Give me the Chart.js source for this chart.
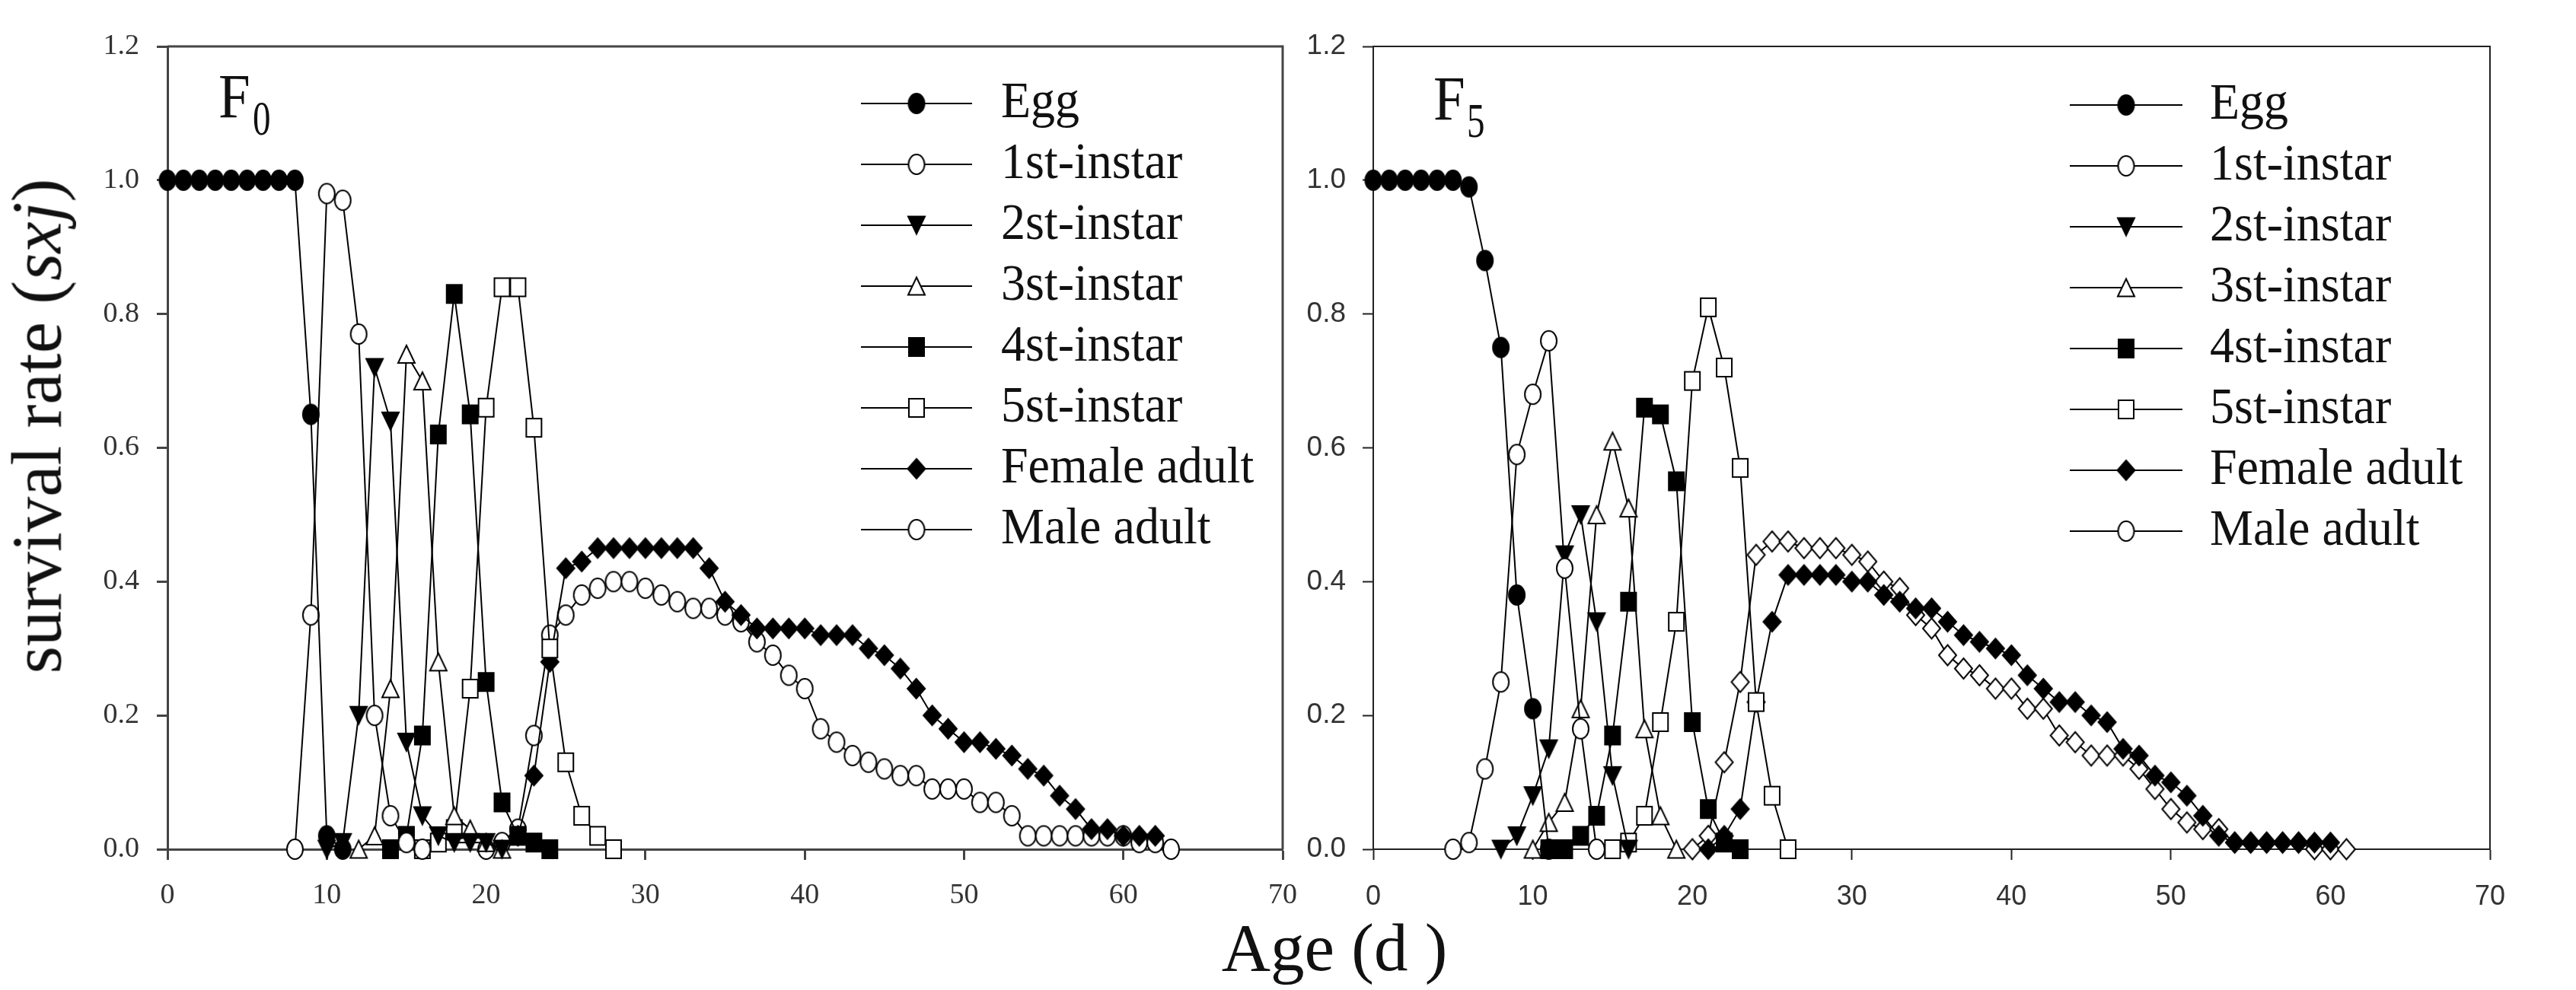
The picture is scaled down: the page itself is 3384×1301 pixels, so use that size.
<!DOCTYPE html>
<html><head><meta charset="utf-8">
<script src="https://cdn.jsdelivr.net/npm/chart.js@4.4.1/dist/chart.umd.min.js"></script>
<style>
html,body{margin:0;padding:0;background:#fff;}
body{width:3384px;height:1301px;position:relative;overflow:hidden;font-family:"Liberation Serif","Times New Roman",serif;}
canvas{position:absolute;top:0;}
#c1{left:0;}
#c2{left:1690px;}
.lbl{position:absolute;line-height:1;white-space:nowrap;color:#111;font-family:"Liberation Serif","Times New Roman",serif;}
#ytitle{left:48px;top:560px;font-size:93px;transform:translate(-50%,-50%) rotate(-90deg);}
#xtitle{left:1453px;width:600px;text-align:center;top:1201px;font-size:89px;}
.F{font-size:75px;transform-origin:0 83.75%;transform:scaleY(1.1);}
.sub{font-size:47px;transform-origin:0 83.75%;transform:scaleY(1.35);}
</style></head><body>
<canvas id="c1" width="1760" height="1301"></canvas>
<canvas id="c2" width="1694" height="1301"></canvas>
<div class="lbl" id="ytitle">survival rate (<i>sxj</i>)</div>
<div class="lbl" id="xtitle">Age (d )</div>
<div class="lbl F" style="left:287px;top:91px;">F</div>
<div class="lbl sub" style="left:332px;top:138px;">0</div>
<div class="lbl F" style="left:1883px;top:94px;">F</div>
<div class="lbl sub" style="left:1927px;top:141px;">5</div>
<script>
// ---- categories / tick labels ----
const seriesNames = ['Egg','1st-instar','2st-instar','3st-instar','4st-instar','5st-instar','Female adult','Male adult'];
const xTickStep = 10, xMin = 0, xMax = 70;
const yTickStep = 0.2, yMin = 0, yMax = 1.2;

// ---- F0 (start age of each series, then daily values) ----
const f0EggStart = 0;
const f0Egg = [1,1,1,1,1,1,1,1,1,0.65,0.02,0.00];
const f0FirstStart = 8;
const f0First = [0.00,0.35,0.98,0.97,0.77,0.20,0.05,0.01,0.00];
const f0SecondStart = 10;
const f0Second = [0.00,0.01,0.20,0.72,0.64,0.16,0.05,0.02,0.01,0.01,0.01,0.00];
const f0ThirdStart = 12;
const f0Third = [0.00,0.02,0.24,0.74,0.70,0.28,0.05,0.03,0.01,0.00];
const f0FourthStart = 14;
const f0Fourth = [0.00,0.02,0.17,0.62,0.83,0.65,0.25,0.07,0.02,0.01,0.00];
const f0FifthStart = 16;
const f0Fifth = [0.00,0.01,0.03,0.24,0.66,0.84,0.84,0.63,0.30,0.13,0.05,0.02,0.00];
const f0FemaleStart = 22;
const f0Female = [0.02,0.11,0.28,0.42,0.43,0.45,0.45,0.45,0.45,0.45,0.45,0.45,0.42,0.37,0.35,0.33,0.33,0.33,0.33,0.32,0.32,0.32,0.30,0.29,0.27,0.24,0.20,0.18,0.16,0.16,0.15,0.14,0.12,0.11,0.08,0.06,0.03,0.03,0.02,0.02,0.02];
const f0MaleStart = 20;
const f0Male = [0.00,0.01,0.03,0.17,0.32,0.35,0.38,0.39,0.40,0.40,0.39,0.38,0.37,0.36,0.36,0.35,0.34,0.31,0.29,0.26,0.24,0.18,0.16,0.14,0.13,0.12,0.11,0.11,0.09,0.09,0.09,0.07,0.07,0.05,0.02,0.02,0.02,0.02,0.02,0.02,0.02,0.01,0.01,0.00];

// ---- F5 ----
const f5EggStart = 0;
const f5Egg = [1,1,1,1,1,1,0.99,0.88,0.75,0.38,0.21,0.00];
const f5FirstStart = 5;
const f5First = [0.00,0.01,0.12,0.25,0.59,0.68,0.76,0.42,0.18,0.00];
const f5SecondStart = 8;
const f5Second = [0.00,0.02,0.08,0.15,0.44,0.50,0.34,0.11,0.00];
const f5ThirdStart = 10;
const f5Third = [0.00,0.04,0.07,0.21,0.50,0.61,0.51,0.18,0.05,0.00];
const f5FourthStart = 11;
const f5Fourth = [0.00,0.00,0.02,0.05,0.17,0.37,0.66,0.65,0.55,0.19,0.06,0.01,0.00];
const f5FifthStart = 15;
const f5Fifth = [0.00,0.01,0.05,0.19,0.34,0.70,0.81,0.72,0.57,0.22,0.08,0.00];
const f5FemaleStart = 21;
const f5Female = [0.00,0.02,0.06,0.22,0.34,0.41,0.41,0.41,0.41,0.40,0.40,0.38,0.37,0.36,0.36,0.34,0.32,0.31,0.30,0.29,0.26,0.24,0.22,0.22,0.20,0.19,0.15,0.14,0.11,0.10,0.08,0.05,0.02,0.01,0.01,0.01,0.01,0.01,0.01,0.01];
const f5MaleStart = 20;
const f5Male = [0.00,0.02,0.13,0.25,0.44,0.46,0.46,0.45,0.45,0.45,0.44,0.43,0.40,0.39,0.35,0.33,0.29,0.27,0.26,0.24,0.24,0.21,0.21,0.17,0.16,0.14,0.14,0.14,0.12,0.09,0.06,0.04,0.03,0.03,0.01,0.01,0.01,0.01,0.01,0.00,0.00,0.00];

function pts(start, vals){ return vals.map((v,i)=>({x:start+i, y:v})); }

// ---- marker images (slightly tall, as in the source figure) ----
function makeMarker(shape, filled, w, h){
  const pad = 3;
  const c = document.createElement('canvas');
  c.width = Math.ceil(w + 2 * pad); c.height = Math.ceil(h + 2 * pad);
  const ctx = c.getContext('2d');
  const cx = c.width / 2, cy = c.height / 2, hw = w / 2, hh = h / 2;
  ctx.beginPath();
  if (shape === 'circle') {
    ctx.ellipse(cx, cy, hw, hh, 0, 0, Math.PI * 2);
  } else if (shape === 'rect') {
    ctx.rect(cx - hw, cy - hh, w, h);
  } else if (shape === 'up') {
    ctx.moveTo(cx, cy - hh); ctx.lineTo(cx + hw, cy + hh); ctx.lineTo(cx - hw, cy + hh);
  } else if (shape === 'down') {
    ctx.moveTo(cx - hw, cy - hh); ctx.lineTo(cx + hw, cy - hh); ctx.lineTo(cx, cy + hh);
  } else if (shape === 'diamond') {
    ctx.moveTo(cx, cy - hh); ctx.lineTo(cx + hw, cy); ctx.lineTo(cx, cy + hh); ctx.lineTo(cx - hw, cy);
  }
  ctx.closePath();
  ctx.fillStyle = filled ? '#000' : '#fff';
  ctx.fill();
  ctx.strokeStyle = '#000';
  ctx.lineWidth = 2;
  ctx.stroke();
  return c;
}

const mk = {
  fCircle: makeMarker('circle', true, 21, 26),
  oCircle: makeMarker('circle', false, 21, 26),
  fDown: makeMarker('down', true, 22, 23),
  oUp: makeMarker('up', false, 22, 23),
  fRect: makeMarker('rect', true, 20, 24),
  oRect: makeMarker('rect', false, 20, 24),
  fDiamond: makeMarker('diamond', true, 23, 26),
  oDiamond: makeMarker('diamond', false, 23, 27)
};
const plotMarkers = [mk.fCircle, mk.oCircle, mk.fDown, mk.oUp, mk.fRect, mk.oRect, mk.fDiamond, mk.oCircle];
const legendMarkers = plotMarkers;

function buildDatasets(list, maleMarker){
  return list.map((s, i) => ({
    label: seriesNames[i],
    data: pts(s[0], s[1]),
    borderColor: '#000',
    borderWidth: 2,
    pointStyle: (i === 7 && maleMarker) ? maleMarker : plotMarkers[i],
    pointRadius: 11,
    tension: 0,
    fill: false,
    clip: false,
    legendMarker: legendMarkers[i]
  }));
}

const framePlugin = {
  id: 'frameBox',
  afterDraw(chart, args, opts){
    const a = chart.chartArea, ctx = chart.ctx;
    ctx.save();
    ctx.strokeStyle = opts.color; ctx.lineWidth = opts.width;
    ctx.beginPath();
    ctx.moveTo(a.left, a.top); ctx.lineTo(a.right, a.top); ctx.lineTo(a.right, a.bottom);
    ctx.stroke();
    ctx.restore();
  }
};

const legendPlugin = {
  id: 'lineLegend',
  afterDraw(chart, args, o){
    const ctx = chart.ctx;
    chart.data.datasets.forEach((ds, i) => {
      const y = o.y0 + i * o.dy;
      ctx.save();
      ctx.strokeStyle = '#000'; ctx.lineWidth = 2;
      ctx.beginPath(); ctx.moveTo(o.x1, y); ctx.lineTo(o.x2, y); ctx.stroke();
      const m = ds.legendMarker, xm = (o.x1 + o.x2) / 2;
      ctx.drawImage(m, xm - m.width / 2, y - m.height / 2);
      ctx.translate(o.xt, y);
      ctx.scale(1, 1.07);
      ctx.font = o.fontSize + 'px "Liberation Serif", "Times New Roman", serif';
      ctx.textBaseline = 'middle';
      ctx.textAlign = 'left';
      ctx.fillStyle = '#111';
      ctx.fillText(ds.label, 0, 0);
      ctx.restore();
    });
  }
};

function makeChart(id, datasets, cfg){
  const axisColor = cfg.axisColor, axisW = cfg.axisWidth;
  return new Chart(document.getElementById(id), {
    type: 'line',
    data: { datasets },
    options: {
      responsive: false,
      animation: false,
      devicePixelRatio: 1,
      layout: { padding: { left: 0, right: cfg.padRight, top: 61, bottom: 0 } },
      plugins: {
        legend: { display: false },
        tooltip: { enabled: false },
        frameBox: { color: axisColor, width: axisW },
        lineLegend: cfg.legend
      },
      scales: {
        x: {
          type: 'linear', min: xMin, max: xMax,
          ticks: { stepSize: xTickStep, padding: cfg.xPad, color: '#333', maxRotation: 0, autoSkip: false,
                   font: { family: cfg.tickFamily, size: cfg.xTickSize } },
          grid: { display: true, drawOnChartArea: false, drawTicks: true, tickLength: 14, tickColor: axisColor, tickWidth: axisW },
          border: { display: true, color: axisColor, width: axisW },
          afterFit: s => { s.height = 185; }
        },
        y: {
          min: yMin, max: yMax,
          ticks: { stepSize: yTickStep, padding: cfg.yPad, color: '#333',
                   font: { family: cfg.tickFamily, size: cfg.yTickSize },
                   callback: v => Number(v).toFixed(1) },
          grid: { display: true, drawOnChartArea: false, drawTicks: true, tickLength: 14, tickColor: axisColor, tickWidth: axisW },
          border: { display: true, color: axisColor, width: axisW },
          afterFit: s => { s.width = cfg.yWidth; }
        }
      }
    },
    plugins: [framePlugin, legendPlugin]
  });
}

const f0Series = [[f0EggStart,f0Egg],[f0FirstStart,f0First],[f0SecondStart,f0Second],[f0ThirdStart,f0Third],
                  [f0FourthStart,f0Fourth],[f0FifthStart,f0Fifth],[f0FemaleStart,f0Female],[f0MaleStart,f0Male]];
const f5Series = [[f5EggStart,f5Egg],[f5FirstStart,f5First],[f5SecondStart,f5Second],[f5ThirdStart,f5Third],
                  [f5FourthStart,f5Fourth],[f5FifthStart,f5Fifth],[f5FemaleStart,f5Female],[f5MaleStart,f5Male]];

makeChart('c1', buildDatasets(f0Series, null), {
  axisColor: '#444', axisWidth: 3, padRight: 75, yWidth: 220, xPad: 24, yPad: 23,
  tickFamily: '"Liberation Serif", "Times New Roman", serif', xTickSize: 38, yTickSize: 38,
  legend: { x1: 1131, x2: 1277, xt: 1315, y0: 136, dy: 80, fontSize: 64 }
});
makeChart('c2', buildDatasets(f5Series, mk.oDiamond), {
  axisColor: '#222', axisWidth: 2, padRight: 113, yWidth: 114, xPad: 27, yPad: 22,
  tickFamily: '"Liberation Sans", Arial, sans-serif', xTickSize: 36, yTickSize: 37,
  legend: { x1: 1029, x2: 1177, xt: 1213, y0: 138, dy: 80, fontSize: 64 }
});
</script>
</body></html>
